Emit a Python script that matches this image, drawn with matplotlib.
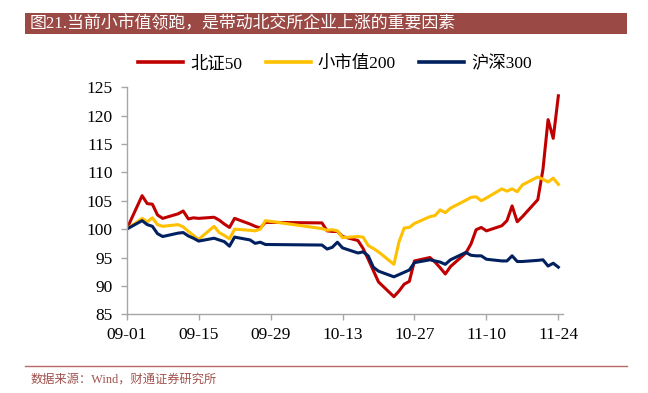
import matplotlib
matplotlib.use("Agg")
import matplotlib.pyplot as plt
import matplotlib.dates as mdates
from matplotlib.patches import Rectangle
from matplotlib.lines import Line2D
import pandas as pd

plt.rcParams['font.family'] = ['Liberation Serif', 'Noto Sans CJK SC', 'DejaVu Sans']

dates = [
    "2023-09-01", "2023-09-04", "2023-09-05", "2023-09-06", "2023-09-07", "2023-09-08",
    "2023-09-11", "2023-09-12", "2023-09-13", "2023-09-14", "2023-09-15",
    "2023-09-18", "2023-09-19", "2023-09-20", "2023-09-21", "2023-09-22",
    "2023-09-25", "2023-09-26", "2023-09-27", "2023-09-28",
    "2023-10-09", "2023-10-10", "2023-10-11", "2023-10-12", "2023-10-13",
    "2023-10-16", "2023-10-17", "2023-10-18", "2023-10-19", "2023-10-20",
    "2023-10-23", "2023-10-24", "2023-10-25", "2023-10-26", "2023-10-27",
    "2023-10-30", "2023-10-31", "2023-11-01", "2023-11-02", "2023-11-03",
    "2023-11-06", "2023-11-07", "2023-11-08", "2023-11-09", "2023-11-10",
    "2023-11-13", "2023-11-14", "2023-11-15", "2023-11-16", "2023-11-17",
    "2023-11-20", "2023-11-21", "2023-11-22", "2023-11-23", "2023-11-24",
]

bz50 = [
    100.0, 105.9, 104.5, 104.4, 102.5, 101.9,
    102.7, 103.2, 101.8, 102.0, 101.9,
    102.1, 101.6, 100.9, 100.3, 101.9,
    100.9, 100.5, 100.2, 101.2,
    101.1, 99.7, 99.6, 99.6, 98.7,
    98.0, 96.6, 94.7, 92.7, 90.7,
    88.1, 89.1, 90.3, 90.8, 94.4,
    95.0, 94.2, 93.2, 92.1, 93.4,
    95.8, 97.4, 99.9, 100.3, 99.7,
    100.6, 101.5, 104.1, 101.3, 102.2,
    105.2, 110.5, 119.3, 116.0, 123.5,
]

xsz200 = [
    100.0, 101.9, 101.3, 102.0, 100.8, 100.5,
    100.8, 100.4, 99.6, 98.9, 98.2,
    100.5, 99.4, 98.9, 98.3, 100.0,
    99.8, 99.7, 100.0, 101.5,
    100.1, 99.8, 99.9, 99.7, 98.5,
    98.7, 98.6, 97.1, 96.6, 96.0,
    93.8, 97.8, 100.2, 100.3, 101.0,
    102.2, 102.4, 103.4, 102.9, 103.7,
    105.1, 105.6, 105.7, 105.0, 105.5,
    107.1, 106.7, 107.1, 106.6, 107.8,
    109.2, 108.8, 108.3, 109.0, 107.9,
]

hs300 = [
    100.0, 101.5, 100.8, 100.5, 99.2, 98.7,
    99.3, 99.4, 98.8, 98.4, 97.9,
    98.4, 98.1, 97.8, 97.0, 98.6,
    98.1, 97.5, 97.7, 97.3,
    97.2, 96.5, 96.8, 97.7, 96.7,
    95.8, 96.0, 95.3, 93.3, 92.6,
    91.6, 92.0, 92.4, 92.8, 94.1,
    94.6, 94.4, 94.2, 93.8, 94.6,
    95.9, 95.4, 95.3, 95.3, 94.7,
    94.4, 94.4, 95.3, 94.3, 94.3,
    94.5, 94.6, 93.5, 94.0, 93.3,
]

series_names = ["北证50", "小市值200", "沪深300"]
series_colors = ["#C00000", "#FFC000", "#002060"]
yticks = [85, 90, 95, 100, 105, 110, 115, 120, 125]
xtick_dates = ["2023-09-01", "2023-09-15", "2023-09-29", "2023-10-13",
               "2023-10-27", "2023-11-10", "2023-11-24"]

title_text = "图21.当前小市值领跑，是带动北交所企业上涨的重要因素"
source_text = "数据来源：Wind，财通证券研究所"

x = pd.to_datetime(dates)

fig = plt.figure(figsize=(6.48, 3.93), dpi=100)
ax = fig.add_axes([0.1955, 0.2003, 0.6733, 0.5776])

for vals, name, col in zip([bz50, xsz200, hs300], series_names, series_colors):
    ax.plot(x, vals, color=col, lw=2.2, label=name, solid_joinstyle='round')

ax.set_ylim(85, 125)
ax.set_yticks(yticks)
ax.set_xlim(pd.Timestamp("2023-09-01"), pd.Timestamp("2023-09-01") + pd.Timedelta(days=84.9))
ax.set_xticks(pd.to_datetime(xtick_dates))
ax.xaxis.set_major_formatter(mdates.DateFormatter("%m-%d"))

for s in ["top", "right"]:
    ax.spines[s].set_visible(False)
for s in ["left", "bottom"]:
    ax.spines[s].set_color("#A6A6A6")
    ax.spines[s].set_linewidth(1.0)
ax.tick_params(axis="both", colors="#A6A6A6", labelcolor="black", labelsize=12.5,
               direction="out", length=4, width=1.0)
ax.tick_params(axis="y", pad=6)
ax.tick_params(axis="x", pad=5)

handles = [Line2D([], [], color=c, lw=2.6) for c in series_colors]
fig.legend(handles, series_names, loc="center", bbox_to_anchor=(0.517, 0.837),
           ncol=3, frameon=False, fontsize=12.5, handlelength=2.6,
           handletextpad=0.4, columnspacing=1.35)

# title bar
fig.patches.append(Rectangle((25 / 648, 1 - 34 / 393), (627 - 25) / 648, 21 / 393,
                             transform=fig.transFigure, facecolor="#9B4944",
                             edgecolor="none", zorder=0))
fig.text(30 / 648, 1 - 23.5 / 393, title_text, color="white", fontsize=12.2,
         va="center", ha="left")

# bottom rule and source
fig.add_artist(Line2D([25 / 648, 627 / 648], [1 - 366 / 393, 1 - 366 / 393],
                      transform=fig.transFigure, color="#B86A64", lw=1.0))
fig.text(31 / 648, 1 - 380 / 393, source_text, color="#A0524D", fontsize=8.8,
         va="center", ha="left")

fig.savefig("out.png", dpi=100)
